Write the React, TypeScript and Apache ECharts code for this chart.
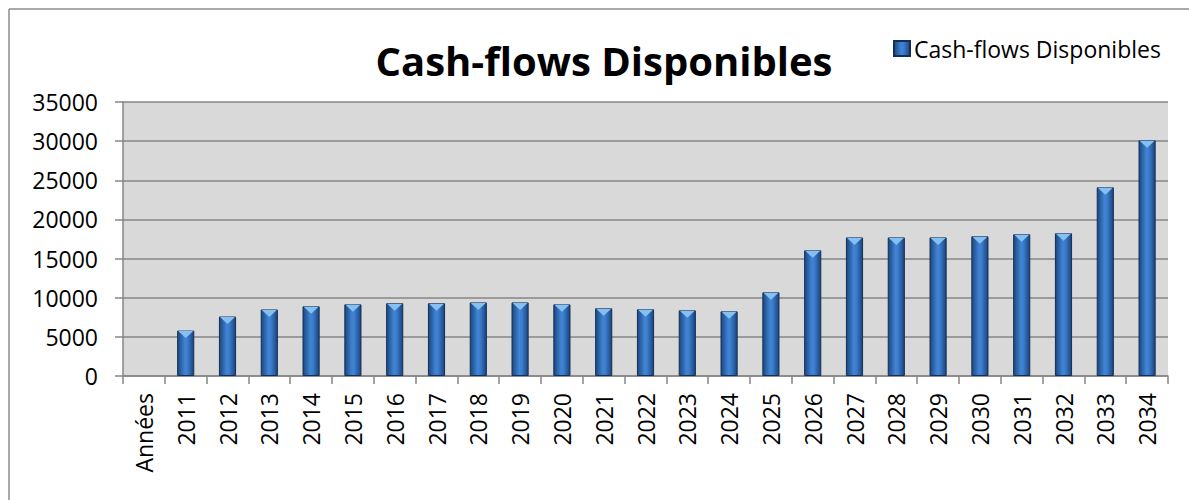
import React, { useEffect, useRef } from "react";
import * as echarts from "echarts";

const categories = ["Années", "2011", "2012", "2013", "2014", "2015", "2016", "2017", "2018", "2019", "2020", "2021", "2022", "2023", "2024", "2025", "2026", "2027", "2028", "2029", "2030", "2031", "2032", "2033", "2034"];
const cashFlows: (number | null)[] = [null, 5800, 7600, 8500, 8900, 9150, 9300, 9300, 9400, 9400, 9150, 8650, 8520, 8390, 8260, 10690, 16050, 17700, 17700, 17700, 17850, 18100, 18230, 24100, 30100];
const seriesName = "Cash-flows Disponibles";
const titleText = "Cash-flows Disponibles";

const FONT = "'Open Sans', sans-serif";

export default function App() {
  const ref = useRef<HTMLDivElement>(null);
  useEffect(() => {
    document.body.style.margin = "0";
    const chart = echarts.init(ref.current!, null, { renderer: "svg" });
    const barFill = new echarts.graphic.LinearGradient(0, 0, 1, 0, [
      { offset: 0, color: "#1c477f" },
      { offset: 0.45, color: "#4084d4" },
      { offset: 0.6, color: "#3c7ecf" },
      { offset: 1, color: "#1b447c" },
    ]);
    chart.setOption({
      animation: false,
      backgroundColor: "#ffffff",
      textStyle: { fontFamily: FONT },
      title: {
        text: titleText,
        left: 599,
        top: 35,
        textAlign: "center",
        textStyle: { fontFamily: FONT, fontSize: 40, fontWeight: "bold", color: "#000" },
      },
      legend: {
        data: [{ name: seriesName, icon: "rect" }],
        left: 888,
        top: 32,
        itemWidth: 16,
        itemHeight: 15,
        itemGap: 6,
        textStyle: { fontFamily: FONT, fontSize: 23, color: "#000", padding: [0, 0, 0, -1] },
      },
      graphic: [
        { type: "line", shape: { x1: 9, y1: 9, x2: 1189, y2: 9 }, style: { stroke: "#8c8c8c", lineWidth: 1.5 } },
        { type: "line", shape: { x1: 9, y1: 9, x2: 9, y2: 500 }, style: { stroke: "#8c8c8c", lineWidth: 1.5 } },
      ],
      grid: {
        left: 123,
        right: 21,
        top: 102,
        bottom: 124,
        show: true,
        backgroundColor: "#d9d9d9",
        borderWidth: 0,
      },
      xAxis: {
        type: "category",
        data: categories,
        boundaryGap: true,
        axisLine: { lineStyle: { color: "#868686", width: 1.5 } },
        axisTick: { show: true, length: 8, alignWithLabel: false, lineStyle: { color: "#868686", width: 1.5 } },
        axisLabel: { rotate: 90, margin: 17, fontFamily: FONT, fontSize: 23, color: "#000", interval: 0 },
        splitLine: { show: false },
      },
      yAxis: {
        type: "value",
        min: 0,
        max: 35000,
        interval: 5000,
        axisLine: { show: true, lineStyle: { color: "#868686", width: 1.5 } },
        axisTick: { show: true, length: 8, lineStyle: { color: "#868686", width: 1.5 } },
        axisLabel: { margin: 25, fontFamily: FONT, fontSize: 23, color: "#000", formatter: (v: number) => String(v) },
        splitLine: { show: true, lineStyle: { color: "#868686", width: 1.5 } },
      },
      series: [
        {
          name: seriesName,
          type: "bar",
          data: cashFlows,
          barWidth: "41%",
          itemStyle: { color: barFill, borderColor: "#132f56", borderWidth: 1 },
        },
        {
          name: "cap",
          type: "scatter",
          data: cashFlows,
          symbol: "triangle",
          symbolRotate: 180,
          symbolSize: [15, 7],
          symbolOffset: [0, 4],
          itemStyle: { color: "#86c0f2", opacity: 1 },
          silent: true,
          z: 3,
        },
      ],
    });
    return () => chart.dispose();
  }, []);
  return <div ref={ref} style={{ width: 1189, height: 500 }} />;
}
